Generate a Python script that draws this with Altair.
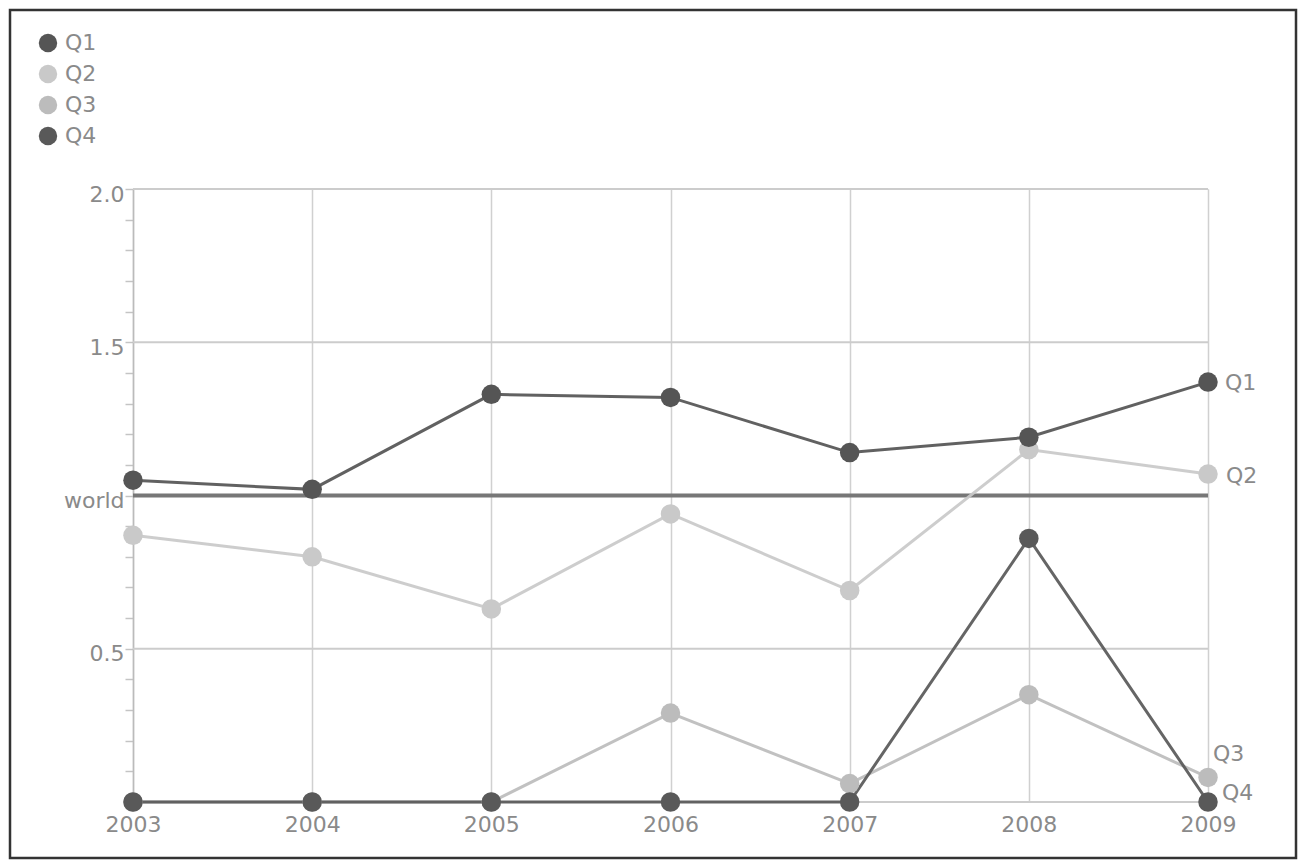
import altair as alt
import pandas as pd

years = [2003, 2004, 2005, 2006, 2007, 2008, 2009]
q1 = [1.05, 1.02, 1.33, 1.32, 1.14, 1.19, 1.37]
q2 = [0.87, 0.80, 0.63, 0.94, 0.69, 1.15, 1.07]
q3 = [0.0, 0.0, 0.0, 0.29, 0.06, 0.35, 0.08]
q4 = [0.0, 0.0, 0.0, 0.0, 0.0, 0.86, 0.0]
series = ["Q1", "Q2", "Q3", "Q4"]
colors = ["#555555", "#c9c9c9", "#bcbcbc", "#595959"]
draw_order = {"Q2": 0, "Q3": 1, "Q1": 2, "Q4": 3}
world = 1.0
grid_vals = [0.0, 0.5, 1.5, 2.0]
y_ticks = [round(i * 0.1, 1) for i in range(21)]

vals = {"Q1": q1, "Q2": q2, "Q3": q3, "Q4": q4}
rows = []
for s in ["Q2", "Q3", "Q1", "Q4"]:
    for yr, v in zip(years, vals[s]):
        rows.append({"year": yr, "value": v, "series": s, "draw": draw_order[s]})
df = pd.DataFrame(rows)

FONT = "DejaVu Sans"
TXT = "#8a8a8a"

x = alt.X("year:Q", scale=alt.Scale(domain=[2003, 2009], nice=False, zero=False),
          axis=alt.Axis(values=years, format="d", title=None, grid=True, gridColor="#d0d0d0",
                        gridWidth=1.5, domain=False, ticks=False, labelFont=FONT,
                        labelFontSize=22, labelColor=TXT, labelPadding=12, labelFlush=False))
y = alt.Y("value:Q", scale=alt.Scale(domain=[0, 2], nice=False),
          axis=alt.Axis(values=y_ticks, title=None, labelOverlap=False,
                        labelExpr="datum.value == 1 ? 'world' : (datum.value == 0.5 || datum.value == 1.5 || datum.value == 2 ? format(datum.value, '.1f') : '')",
                        labelFont=FONT, labelFontSize=22, labelColor=TXT, labelPadding=1,
                        labelOffset=5, grid=False,
                        domain=True, domainColor="#bbbbbb", domainWidth=1.5,
                        ticks=True, tickColor="#c4c4c4", tickSize=8, tickWidth=1.5))

legend = alt.Legend(title=None, orient="none", legendX=-96, legendY=-157,
                    symbolType="circle", symbolSize=340, symbolOpacity=1,
                    symbolStrokeWidth=0, labelFont=FONT, labelFontSize=22,
                    labelColor=TXT, rowPadding=9, labelOffset=6)
color = alt.Color("series:N", scale=alt.Scale(domain=series, range=colors), legend=legend)

base = alt.Chart(df)

grid_df = pd.DataFrame({"value": grid_vals})
grid = alt.Chart(grid_df).mark_rule(color="#cccccc", strokeWidth=2).encode(y=y)

world_df = pd.DataFrame({"value": [world]})
world_rule = alt.Chart(world_df).mark_rule(color="#777777", strokeWidth=4).encode(y=y)

lines = base.mark_line(strokeWidth=3, opacity=0.93).encode(
    x=x, y=y, color=color, detail="series:N", order="year:Q",
)

points = base.mark_point(filled=True, opacity=1, size=380).encode(
    x=x, y=y, color=color, order=alt.Order("draw:Q"),
)

last = df[df["year"] == years[-1]]
def lab(s, dx, dy):
    return alt.Chart(last[last["series"] == s]).mark_text(
        align="left", baseline="middle", dx=dx, dy=dy, font=FONT, fontSize=22, color=TXT
    ).encode(x=x, y=y, text="series:N")

labels = lab("Q1", 17, 1) + lab("Q2", 18, 2) + lab("Q3", 5, -23) + lab("Q4", 14, -9)

frame = alt.Chart(world_df).mark_rect(fill=None, stroke="#333333", strokeWidth=2.5).encode(
    x=alt.value(-123), x2=alt.value(1163), y=alt.value(-179), y2=alt.value(669)
)

chart = alt.layer(grid, world_rule, lines, points, labels, frame).properties(
    width=1075, height=613,
    autosize=alt.AutoSizeParams(type="none"),
    padding={"left": 125, "top": 181, "right": 90, "bottom": 58},
).configure_view(stroke=None).configure(background="white")

chart.save("out.html", embed_options={"renderer": "svg", "actions": False})
